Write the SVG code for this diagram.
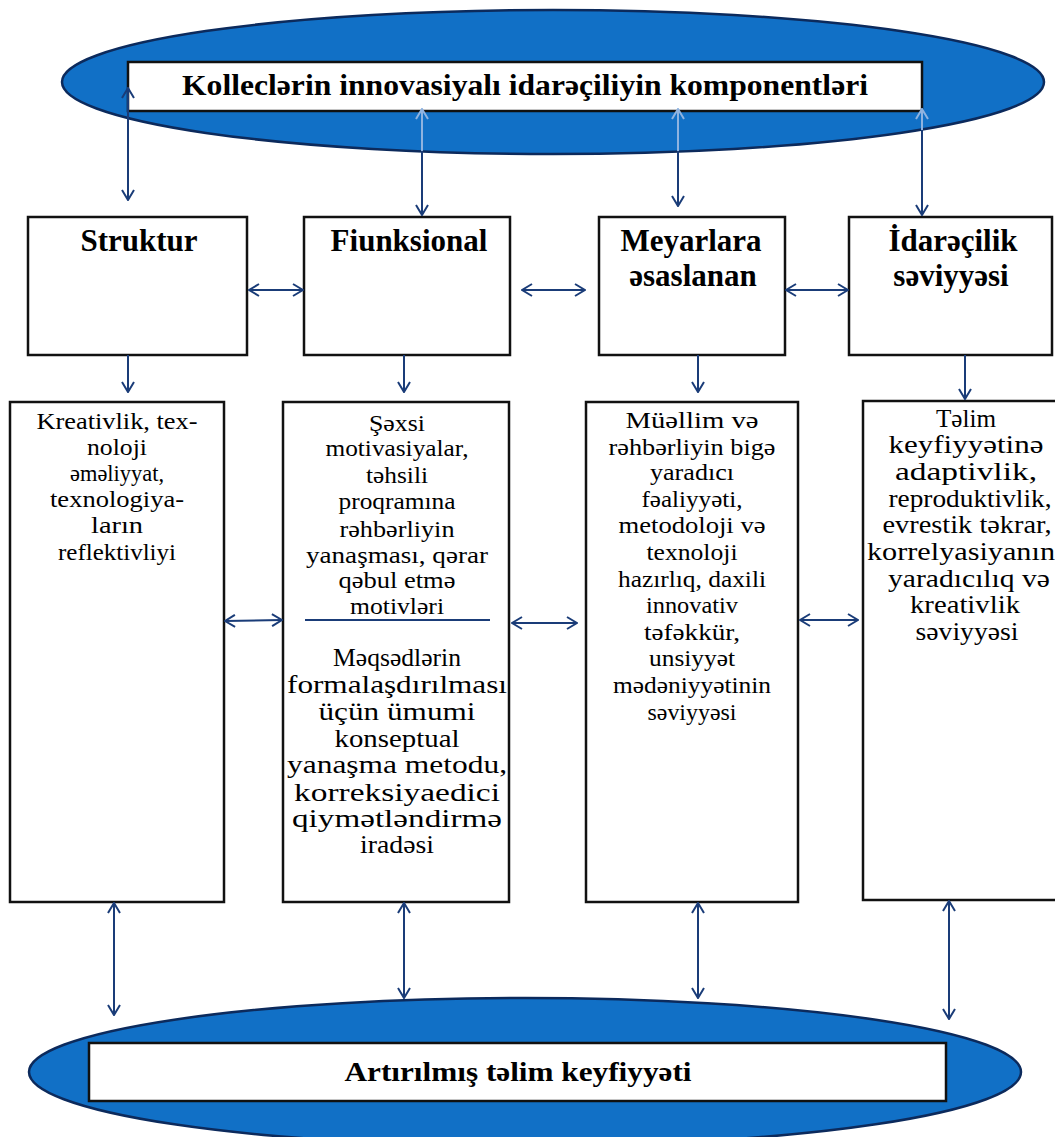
<svg xmlns="http://www.w3.org/2000/svg" width="1055" height="1137" viewBox="0 0 1055 1137">
<style>
.ell{fill:#1170c6;stroke:#0c2a5c;stroke-width:2.5}
.wbox{fill:#ffffff;stroke:#111111;stroke-width:2.5}
.box{fill:#ffffff;stroke:#111111;stroke-width:2.5}
.ttl{font-family:"Liberation Serif","Times New Roman",serif;font-weight:bold;fill:#000;text-anchor:middle}
.hd{font-family:"Liberation Serif","Times New Roman",serif;font-weight:bold;font-size:31px;fill:#000;text-anchor:middle}
.bd{font-family:"Liberation Serif","Times New Roman",serif;font-size:24px;fill:#000;text-anchor:middle}
.bw{font-family:"Liberation Serif","Times New Roman",serif;font-size:25px;fill:#000;text-anchor:middle}
.ln{fill:none;stroke:#1a3c78;stroke-width:2}
.lt{fill:none;stroke:#8fb3e0;stroke-width:2}
</style>
<defs>
<marker id="ah" viewBox="0 0 12 14" refX="11" refY="7" markerWidth="12" markerHeight="14" markerUnits="userSpaceOnUse" orient="auto-start-reverse">
<path d="M1,1 L11,7 L1,13" fill="none" stroke="#1a3c78" stroke-width="2"/>
</marker>
<marker id="ahl" viewBox="0 0 12 14" refX="11" refY="7" markerWidth="12" markerHeight="14" markerUnits="userSpaceOnUse" orient="auto-start-reverse">
<path d="M1,1 L11,7 L1,13" fill="none" stroke="#8fb3e0" stroke-width="2"/>
</marker>
</defs>

<g id="top-ellipse">
<ellipse class="ell" cx="553" cy="82" rx="491" ry="72"/>
<rect class="wbox" x="128" y="62" width="794" height="49"/>
<text class="ttl" x="525" y="95" font-size="30" textLength="686" lengthAdjust="spacingAndGlyphs">Kolleclərin innovasiyalı idarəçiliyin komponentləri</text>
</g>

<g id="bottom-ellipse">
<ellipse class="ell" cx="525" cy="1072" rx="496" ry="74"/>
<rect class="wbox" x="89" y="1043" width="857" height="58"/>
<text class="ttl" x="518" y="1081" font-size="28" textLength="347" lengthAdjust="spacingAndGlyphs">Artırılmış təlim keyfiyyəti</text>
</g>

<g id="struktur">
<rect class="box" x="28" y="217" width="219" height="138"/>
<text class="hd" x="139" y="251">Struktur</text>
</g>
<g id="fiunksional">
<rect class="box" x="304" y="217" width="206" height="138"/>
<text class="hd" x="409" y="251">Fiunksional</text>
</g>
<g id="meyarlara">
<rect class="box" x="599" y="217" width="186" height="138"/>
<text class="hd" x="691" y="251">Meyarlara</text>
<text class="hd" x="693" y="286">əsaslanan</text>
</g>
<g id="idarecilik">
<rect class="box" x="849" y="217" width="203" height="138"/>
<text class="hd" x="953" y="251">İdarəçilik</text>
<text class="hd" x="951" y="286">səviyyəsi</text>
</g>

<g id="box-struktur-detail">
<rect class="box" x="10" y="402" width="214" height="500"/>
<text class="bd" x="117" y="429" textLength="161" lengthAdjust="spacingAndGlyphs">Kreativlik, tex-</text>
<text class="bd" x="117" y="455" textLength="60" lengthAdjust="spacingAndGlyphs">noloji</text>
<text class="bd" x="117" y="481" textLength="94" lengthAdjust="spacingAndGlyphs">əməliyyat,</text>
<text class="bd" x="117" y="507" textLength="134" lengthAdjust="spacingAndGlyphs">texnologiya-</text>
<text class="bd" x="117" y="533" textLength="52" lengthAdjust="spacingAndGlyphs">ların</text>
<text class="bd" x="117" y="560" textLength="118" lengthAdjust="spacingAndGlyphs">reflektivliyi</text>
</g>

<g id="box-fiunksional-detail">
<rect class="box" x="283" y="402" width="226" height="500"/>
<text class="bd" x="397" y="431" textLength="56" lengthAdjust="spacingAndGlyphs">Şəxsi</text>
<text class="bd" x="397" y="456" textLength="143" lengthAdjust="spacingAndGlyphs">motivasiyalar,</text>
<text class="bd" x="397" y="483" textLength="62" lengthAdjust="spacingAndGlyphs">təhsili</text>
<text class="bd" x="397" y="509" textLength="117" lengthAdjust="spacingAndGlyphs">proqramına</text>
<text class="bd" x="397" y="537" textLength="115" lengthAdjust="spacingAndGlyphs">rəhbərliyin</text>
<text class="bd" x="397" y="563" textLength="182" lengthAdjust="spacingAndGlyphs">yanaşması, qərar</text>
<text class="bd" x="397" y="588" textLength="117" lengthAdjust="spacingAndGlyphs">qəbul etmə</text>
<text class="bd" x="397" y="614" textLength="94" lengthAdjust="spacingAndGlyphs">motivləri</text>
<line x1="305" y1="620" x2="490" y2="620" stroke="#1a3c78" stroke-width="2"/>
<text class="bw" x="397" y="666" textLength="128" lengthAdjust="spacingAndGlyphs">Məqsədlərin</text>
<text class="bw" x="397" y="693" textLength="220" lengthAdjust="spacingAndGlyphs">formalaşdırılması</text>
<text class="bw" x="397" y="720" textLength="157" lengthAdjust="spacingAndGlyphs">üçün ümumi</text>
<text class="bw" x="397" y="747" textLength="125" lengthAdjust="spacingAndGlyphs">konseptual</text>
<text class="bw" x="397" y="773" textLength="220" lengthAdjust="spacingAndGlyphs">yanaşma metodu,</text>
<text class="bw" x="397" y="801" textLength="206" lengthAdjust="spacingAndGlyphs">korreksiyaedici</text>
<text class="bw" x="397" y="827" textLength="210" lengthAdjust="spacingAndGlyphs">qiymətləndirmə</text>
<text class="bw" x="397" y="853" textLength="74" lengthAdjust="spacingAndGlyphs">iradəsi</text>
</g>

<g id="box-meyarlara-detail">
<rect class="box" x="586" y="402" width="212" height="500"/>
<text class="bd" x="692" y="428" textLength="133" lengthAdjust="spacingAndGlyphs">Müəllim və</text>
<text class="bd" x="692" y="455" textLength="167" lengthAdjust="spacingAndGlyphs">rəhbərliyin bigə</text>
<text class="bd" x="692" y="480" textLength="84" lengthAdjust="spacingAndGlyphs">yaradıcı</text>
<text class="bd" x="692" y="507" textLength="101" lengthAdjust="spacingAndGlyphs">fəaliyyəti,</text>
<text class="bd" x="692" y="533" textLength="147" lengthAdjust="spacingAndGlyphs">metodoloji və</text>
<text class="bd" x="692" y="560" textLength="91" lengthAdjust="spacingAndGlyphs">texnoloji</text>
<text class="bd" x="692" y="587" textLength="148" lengthAdjust="spacingAndGlyphs">hazırlıq, daxili</text>
<text class="bd" x="692" y="613" textLength="92" lengthAdjust="spacingAndGlyphs">innovativ</text>
<text class="bd" x="692" y="640" textLength="96" lengthAdjust="spacingAndGlyphs">təfəkkür,</text>
<text class="bd" x="692" y="666" textLength="86" lengthAdjust="spacingAndGlyphs">unsiyyət</text>
<text class="bd" x="692" y="693" textLength="158" lengthAdjust="spacingAndGlyphs">mədəniyyətinin</text>
<text class="bd" x="692" y="720" textLength="89" lengthAdjust="spacingAndGlyphs">səviyyəsi</text>
</g>

<g id="box-idarecilik-detail">
<rect class="box" x="863" y="401" width="200" height="499"/>
<text class="bw" x="966" y="427" textLength="60" lengthAdjust="spacingAndGlyphs">Təlim</text>
<text class="bw" x="966" y="453" textLength="155" lengthAdjust="spacingAndGlyphs">keyfiyyətinə</text>
<text class="bw" x="966" y="480" textLength="142" lengthAdjust="spacingAndGlyphs">adaptivlik,</text>
<text class="bw" x="970" y="507" textLength="163" lengthAdjust="spacingAndGlyphs">reproduktivlik,</text>
<text class="bw" x="967" y="533" textLength="169" lengthAdjust="spacingAndGlyphs">evrestik təkrar,</text>
<text class="bw" x="961" y="560" textLength="188" lengthAdjust="spacingAndGlyphs">korrelyasiyanın</text>
<text class="bw" x="969" y="587" textLength="162" lengthAdjust="spacingAndGlyphs">yaradıcılıq və</text>
<text class="bw" x="965" y="613" textLength="110" lengthAdjust="spacingAndGlyphs">kreativlik</text>
<text class="bw" x="967" y="640" textLength="103" lengthAdjust="spacingAndGlyphs">səviyyəsi</text>
</g>

<g id="connectors">
<path class="ln" d="M128,88 L128,200" marker-start="url(#ah)" marker-end="url(#ah)"/>
<path class="lt" d="M422,109 L422,151" marker-start="url(#ahl)"/>
<path class="ln" d="M422,151 L422,215" marker-end="url(#ah)"/>
<path class="lt" d="M678,109 L678,151" marker-start="url(#ahl)"/>
<path class="ln" d="M678,151 L678,206" marker-end="url(#ah)"/>
<path class="lt" d="M922,109 L922,130" marker-start="url(#ahl)"/>
<path class="ln" d="M922,130 L922,215" marker-end="url(#ah)"/>
<path class="ln" d="M249,290 L303,290" marker-start="url(#ah)" marker-end="url(#ah)"/>
<path class="ln" d="M522,290 L585,290" marker-start="url(#ah)" marker-end="url(#ah)"/>
<path class="ln" d="M786,290 L848,290" marker-start="url(#ah)" marker-end="url(#ah)"/>
<path class="ln" d="M128,355 L128,392" marker-end="url(#ah)"/>
<path class="ln" d="M404,355 L404,392" marker-end="url(#ah)"/>
<path class="ln" d="M698,355 L698,392" marker-end="url(#ah)"/>
<path class="ln" d="M965,355 L965,399" marker-end="url(#ah)"/>
<path class="ln" d="M225,621 L282,620" marker-start="url(#ah)" marker-end="url(#ah)"/>
<path class="ln" d="M512,623 L577,623" marker-start="url(#ah)" marker-end="url(#ah)"/>
<path class="ln" d="M800,620 L858,620" marker-start="url(#ah)" marker-end="url(#ah)"/>
<path class="ln" d="M114,903 L114,1015" marker-start="url(#ah)" marker-end="url(#ah)"/>
<path class="ln" d="M404,903 L404,998" marker-start="url(#ah)" marker-end="url(#ah)"/>
<path class="ln" d="M698,903 L698,998" marker-start="url(#ah)" marker-end="url(#ah)"/>
<path class="ln" d="M949,901 L949,1019" marker-start="url(#ah)" marker-end="url(#ah)"/>
</g>
</svg>
